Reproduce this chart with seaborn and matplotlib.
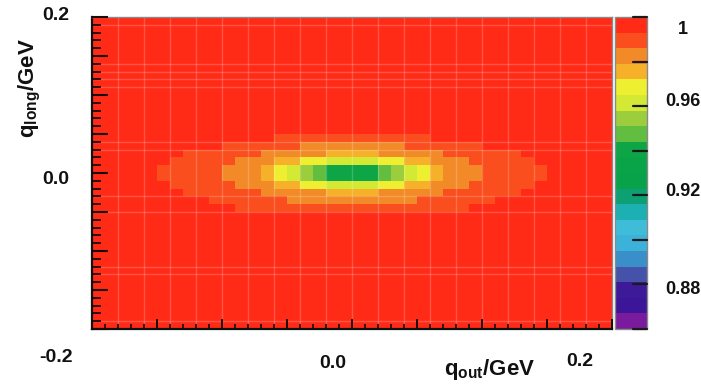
import numpy as np
import pandas as pd
import matplotlib
matplotlib.use("Agg")
import matplotlib.pyplot as plt
from matplotlib.colors import ListedColormap
from matplotlib.lines import Line2D
import seaborn as sns

# ---------------- data ----------------
q_out_centers = np.round(np.arange(-0.195, 0.2, 0.01), 3)     # 40 bins
q_long_centers = q_out_centers[::-1]                            # top -> bottom
B = 0.997                                                       # flat background (~1)

row_p045 = [B]*14 + [0.990]*12 + [B]*14
row_p035 = [B]*10 + [0.990]*6 + [0.984]*8 + [0.990]*6 + [B]*10
row_p025 = [B]*7 + [0.990]*6 + [0.983]*5 + [0.976]*4 + [0.983]*5 + [0.990]*6 + [B]*7
row_p015 = ([B]*6 + [0.990]*5 + [0.983]*3 + [0.976]*2 + [0.969]*2 + [0.962]*4
            + [0.969]*2 + [0.976]*2 + [0.983]*3 + [0.990]*5 + [B]*6)
row_p005 = ([B]*5 + [0.990]*5 + [0.983]*3 + [0.976, 0.969, 0.962, 0.955, 0.948]
            + [0.940]*4 + [0.948, 0.955, 0.962, 0.969, 0.976] + [0.983]*3 + [0.990]*5 + [B]*5)
row_m005 = ([B]*5 + [0.990]*5 + [0.983]*3 + [0.976, 0.969, 0.962, 0.955, 0.948]
            + [0.940]*4 + [0.948, 0.955, 0.962, 0.969, 0.976] + [0.983]*3 + [0.990]*5 + [B]*5)
row_m015 = ([B]*6 + [0.990]*5 + [0.983]*3 + [0.976]*2 + [0.969]*2 + [0.962]*4
            + [0.969]*2 + [0.976]*2 + [0.983]*3 + [0.990]*5 + [B]*6)
row_m025 = [B]*7 + [0.990]*6 + [0.983]*5 + [0.976]*4 + [0.983]*5 + [0.990]*6 + [B]*7
row_m035 = [B]*9 + [0.990]*6 + [0.984]*10 + [0.990]*6 + [B]*9
row_m045 = [B]*11 + [0.990]*18 + [B]*11

central_rows = {0.045: row_p045, 0.035: row_p035, 0.025: row_p025, 0.015: row_p015,
                0.005: row_p005, -0.005: row_m005, -0.015: row_m015,
                -0.025: row_m025, -0.035: row_m035, -0.045: row_m045}

z_min, z_max = 0.86, 1.0
cbar_ticks = [0.86, 0.88, 0.90, 0.92, 0.94, 0.96, 0.98, 1.00]
cbar_label_values = [1.0, 0.96, 0.92, 0.88]
cbar_label_texts = ["1", "0.96", "0.92", "0.88"]
ytick_texts = ["0.2", "0.0", "-0.2"]
xtick_texts = ["0.0", "0.2"]

# 20-level ROOT-like palette, low -> high
palette = ["#7a1a9c", "#3d1598", "#3c1a98", "#4652aa", "#3a8fc8", "#3cb1da",
           "#3fbdd8", "#1cb0b2", "#0ca072", "#08a24a", "#09a448", "#0ea546",
           "#62be40", "#9ccd3c", "#d4e934", "#eeef30", "#f6b02a", "#f28a28",
           "#fa4e1e", "#ff2b17"]

# ---------------- build table ----------------
grid = np.full((len(q_long_centers), len(q_out_centers)), B)
for yc, vals in central_rows.items():
    i = int(np.argmin(np.abs(q_long_centers - yc)))
    grid[i, :] = vals
df = pd.DataFrame(grid, index=q_long_centers, columns=q_out_centers)

# ---------------- style ----------------
sns.set_theme(style="white")
plt.rcParams["font.family"] = ["Liberation Sans", "DejaVu Sans"]
plt.rcParams["mathtext.fontset"] = "custom"
plt.rcParams["mathtext.rm"] = "Liberation Sans"
plt.rcParams["mathtext.it"] = "Liberation Sans:italic"
plt.rcParams["mathtext.bf"] = "Liberation Sans:bold"
plt.rcParams["axes.axisbelow"] = False

W, H = 701, 390
fig = plt.figure(figsize=(W / 100, H / 100), dpi=100)
fig.patch.set_facecolor("white")

def fx(px):
    return px / W

def fy(py):
    return 1 - py / H

CB_L, CB_R, CB_T, CB_B = 615, 647, 17, 329
ax = fig.add_axes([fx(92), fy(329), 520 / W, 312 / H])
cax = fig.add_axes([fx(CB_L), fy(CB_B), (CB_R - CB_L) / W, (CB_B - CB_T) / H])

cmap = ListedColormap(palette)
sns.heatmap(df, ax=ax, cbar_ax=cax, cmap=cmap, vmin=z_min, vmax=z_max,
            xticklabels=False, yticklabels=False, cbar=True)
ax.set_axisbelow(False)

ncol, nrow = len(q_out_centers), len(q_long_centers)

# faint rendering seams like in the reference
seam_cols = np.arange(2, ncol, 2)
seam_rows = [1, 6, 7, 8, 9, 16, 17, 23, 25, 32, 33, 39]
ax.vlines(seam_cols, 0, nrow, colors="white", alpha=0.2, lw=1.0, zorder=2)
ax.hlines(seam_rows, 0, ncol, colors="white", alpha=0.2, lw=1.0, zorder=2)

# ticks (major every 0.05, minor every 0.01), drawn inward like ROOT
ax.set_xticks(np.arange(0, ncol + 1, 5))
ax.set_xticks(np.arange(0, ncol + 1, 1), minor=True)
ax.set_yticks(np.arange(0, nrow + 1, 5))
ax.set_yticks(np.arange(0, nrow + 1, 1), minor=True)
ax.set_xticklabels([])
ax.set_yticklabels([])
ax.set_xlabel("")
ax.set_ylabel("")
tick_col = "#1a0a08"
ax.tick_params(axis="x", which="major", direction="in", length=7.2, width=1.4,
               color=tick_col, bottom=True, top=False, labelbottom=False)
ax.tick_params(axis="x", which="minor", direction="in", length=3.6, width=1.2,
               color=tick_col, bottom=True, top=False)
ax.tick_params(axis="y", which="major", direction="in", length=11.5, width=1.5,
               color=tick_col, left=True, right=False, labelleft=False)
ax.tick_params(axis="y", which="minor", direction="in", length=6.5, width=1.3,
               color=tick_col, left=True, right=False)

for side in ["left", "bottom"]:
    ax.spines[side].set_visible(True)
    ax.spines[side].set_color("#111111")
    ax.spines[side].set_linewidth(1.6)
for side in ["top", "right"]:
    ax.spines[side].set_visible(True)
    ax.spines[side].set_color("#8a8a8a")
    ax.spines[side].set_linewidth(1.0)

# colour bar
cbar = ax.collections[0].colorbar
cbar.outline.set_visible(True)
cbar.outline.set_edgecolor("#8a8a8a")
cbar.outline.set_linewidth(1.0)
cbar.ax.tick_params(axis="y", length=0, labelright=False, labelleft=False)
cbar.ax.minorticks_off()

# ROOT style inward tick marks on the right edge of the palette
for v in cbar_ticks:
    frac = (v - z_min) / (z_max - z_min)
    yy = fy(CB_B) + frac * (CB_B - CB_T) / H
    fig.add_artist(Line2D([fx(CB_R - 14), fx(CB_R)], [yy, yy],
                          transform=fig.transFigure, color="#1a1a1a",
                          lw=1.6, zorder=10))

bold_num = dict(fontsize=14, fontweight="bold", color="#111111")
narrow = dict(fontsize=13, fontweight="bold", color="#111111",
              family=["Liberation Sans Narrow", "Liberation Sans", "DejaVu Sans"])

# axis numbers (placed like the reference slide)
for txt, (px, py) in zip(ytick_texts, [(56, 15), (56, 180), (56, 357)]):
    fig.text(fx(px), fy(py), txt, ha="center", va="center", **bold_num)
for txt, (px, py) in zip(xtick_texts, [(333, 363), (580, 362)]):
    fig.text(fx(px), fy(py), txt, ha="center", va="center", **bold_num)

# colour bar numbers
for val, txt, py in zip(cbar_label_values, cbar_label_texts, [30, 101, 191, 289]):
    fig.text(fx(683), fy(py), txt, ha="center", va="center", **narrow)

# axis titles
fig.text(fx(30), fy(88), r"q$_{\mathbf{long}}$/GeV", rotation=90,
         ha="center", va="center", fontsize=16, fontweight="bold", color="#111111")
fig.text(fx(490), fy(369), r"q$_{\mathbf{out}}$/GeV",
         ha="center", va="center", fontsize=16, fontweight="bold", color="#111111")

fig.savefig("out.png", dpi=100, facecolor="white")
